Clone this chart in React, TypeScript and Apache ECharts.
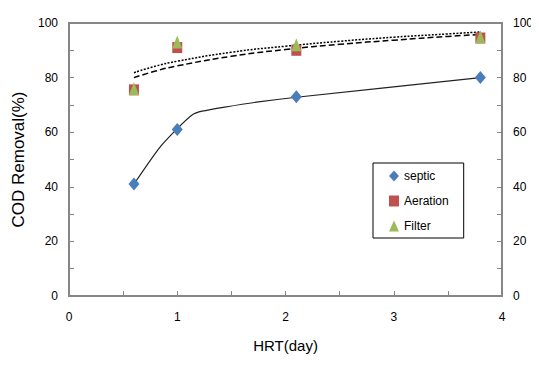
import React, { useEffect, useRef } from "react";
import * as echarts from "echarts";

const hrt = [0.6, 1, 2.1, 3.8];
const septic = [41, 61, 73, 80];
const aeration = [75.5, 91, 90, 94.5];
const filter = [76, 93, 92, 95];

// fitted curves
const septicCurveX = [0.6, 0.83, 1, 1.14, 1.23, 1.44, 1.75, 2.1, 3.8];
const septicCurveY = [41, 54, 61.3, 66.4, 67.7, 69.2, 71.1, 72.8, 80];
const trendX = [0.6, 0.8, 1, 1.5, 2, 2.5, 3, 3.5, 3.8];
const aerationTrend = [80, 82.4, 84.3, 87.8, 90.3, 92.2, 93.7, 95.1, 95.8];
const filterTrend = [81.8, 84.2, 86, 89.3, 91.5, 93.3, 94.8, 96, 96.7];

const xTicks = [0, 1, 2, 3, 4];
const yTicks = [0, 20, 40, 60, 80, 100];

const FONT = "Liberation Sans";
const AXIS_GREY = "#868686";

export default function App() {
  const ref = useRef<HTMLDivElement>(null);
  useEffect(() => {
    const chart = echarts.init(ref.current!, null, { renderer: "svg" });
    const pair = (xs: number[], ys: number[]) => xs.map((x, i) => [x, ys[i]]);
    const tickCommon = {
      axisLine: { show: true, lineStyle: { color: AXIS_GREY, width: 2 } },
      axisTick: { show: true, inside: true, length: 5, lineStyle: { color: AXIS_GREY, width: 1 } },
      minorTick: { show: true, splitNumber: 2, length: 5, lineStyle: { color: AXIS_GREY, width: 1 } },
      splitLine: { show: false },
      minorSplitLine: { show: false },
    };
    const yAxisBase = {
      type: "value",
      min: yTicks[0],
      max: yTicks[yTicks.length - 1],
      interval: 20,
      ...tickCommon,
      axisLabel: { color: "#000", fontFamily: FONT, fontSize: 12, margin: 11 },
    };
    chart.setOption({
      animation: false,
      backgroundColor: "#fff",
      grid: {
        left: 69,
        right: 37,
        top: 23,
        bottom: 71,
        show: true,
        borderColor: AXIS_GREY,
        borderWidth: 2,
      },
      legend: {
        orient: "vertical",
        left: 373,
        top: 163,
        padding: [7, 15, 6, 16],
        itemGap: 13,
        itemWidth: 10,
        itemHeight: 11,
        borderColor: "#000",
        borderWidth: 1,
        textStyle: { color: "#000", fontFamily: FONT, fontSize: 12 },
        data: [
          { name: "septic", icon: "diamond" },
          { name: "Aeration", icon: "rect" },
          { name: "Filter", icon: "triangle" },
        ],
      },
      xAxis: {
        type: "value",
        min: xTicks[0],
        max: xTicks[xTicks.length - 1],
        interval: 1,
        name: "HRT(day)",
        nameLocation: "middle",
        nameGap: 42,
        nameTextStyle: { color: "#000", fontFamily: FONT, fontSize: 15 },
        ...tickCommon,
        axisLabel: { color: "#000", fontFamily: FONT, fontSize: 12, margin: 15 },
      },
      yAxis: [
        {
          ...yAxisBase,
          position: "left",
          name: "COD Removal(%)",
          nameLocation: "middle",
          nameGap: 33,
          nameTextStyle: { color: "#000", fontFamily: FONT, fontSize: 17 },
        },
        {
          ...yAxisBase,
          position: "right",
        },
      ],
      series: [
        {
          name: "septicLine",
          type: "line",
          data: pair(septicCurveX, septicCurveY),
          smooth: 0.2,
          showSymbol: false,
          lineStyle: { color: "#222", width: 1.2 },
          z: 1,
        },
        {
          name: "aerationTrend",
          type: "line",
          data: pair(trendX, aerationTrend),
          smooth: true,
          showSymbol: false,
          lineStyle: { color: "#000", width: 1.5, type: [6, 3] },
          z: 1,
        },
        {
          name: "filterTrend",
          type: "line",
          data: pair(trendX, filterTrend),
          smooth: true,
          showSymbol: false,
          lineStyle: { color: "#000", width: 1.5, type: [2, 1.5] },
          z: 1,
        },
        {
          name: "septic",
          type: "scatter",
          data: pair(hrt, septic),
          symbol: "diamond",
          symbolSize: [11, 13],
          itemStyle: { color: "#4a7ebb", opacity: 1 },
          z: 3,
        },
        {
          name: "Aeration",
          type: "scatter",
          data: pair(hrt, aeration),
          symbol: "rect",
          symbolSize: [10, 11],
          itemStyle: { color: "#c0504d", opacity: 1 },
          z: 3,
        },
        {
          name: "Filter",
          type: "scatter",
          data: pair(hrt, filter),
          symbol: "triangle",
          symbolSize: [10, 13],
          itemStyle: { color: "#9bbb59", opacity: 1 },
          z: 4,
        },
      ],
    });
    return () => chart.dispose();
  }, []);
  return <div ref={ref} style={{ width: 539, height: 367, margin: -8 }} />;
}
